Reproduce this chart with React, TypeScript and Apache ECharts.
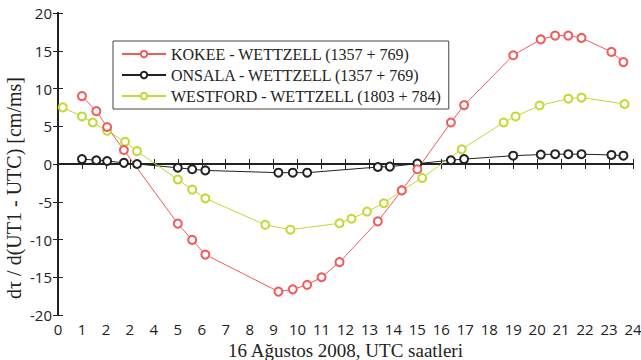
import React, { useEffect, useRef } from "react";
import * as echarts from "echarts";

const xTickLabels = ["0","1","2","2","4","5","6","7","8","9","10","11","12","13","14","15","16","17","18","19","20","21","22","23","24"];
const yTickValues = [-20, -15, -10, -5, 0, 5, 10, 15, 20];

const seriesNames = [
  "KOKEE - WETTZELL (1357 + 769)",
  "ONSALA - WETTZELL (1357 + 769)",
  "WESTFORD - WETTZELL (1803 + 784)",
];

const kokeeHours = [1.0,1.6,2.05,2.75,5.0,5.6,6.15,9.2,9.8,10.4,11.0,11.75,13.35,14.35,15.0,16.4,16.95,19.0,20.15,20.75,21.3,21.85,23.1,23.6];
const kokeeValues = [9.0,7.0,4.9,1.85,-7.9,-10.05,-12.0,-16.9,-16.6,-16.0,-15.0,-13.0,-7.6,-3.5,-0.7,5.5,7.8,14.4,16.5,17.0,17.0,16.7,14.85,13.5];

const onsalaHours = [1.0,1.6,2.05,2.75,3.3,5.0,5.6,6.15,9.2,9.8,10.4,13.35,13.85,15.0,16.4,16.95,19.0,20.15,20.75,21.3,21.85,23.1,23.6];
const onsalaValues = [0.65,0.5,0.4,0.15,0.0,-0.5,-0.7,-0.85,-1.15,-1.15,-1.15,-0.4,-0.35,0.05,0.5,0.65,1.1,1.25,1.3,1.3,1.3,1.2,1.1];

const westfordHours = [0.2,1.0,1.45,2.05,2.8,3.3,5.0,5.6,6.15,8.65,9.7,11.75,12.25,12.9,13.6,14.35,15.2,16.85,18.6,19.1,20.1,21.3,21.85,23.65];
const westfordValues = [7.5,6.3,5.5,4.4,2.95,1.7,-2.05,-3.4,-4.55,-8.05,-8.7,-7.85,-7.25,-6.3,-5.2,-3.5,-1.85,1.95,5.5,6.3,7.75,8.65,8.8,7.95];

const colors = ["#f25a5c", "#222222", "#c2d934"];

const zip = (xs: number[], ys: number[]) => xs.map((x, i) => [x, ys[i]]);

export default function App() {
  const ref = useRef<HTMLDivElement>(null);
  useEffect(() => {
    if (!ref.current) return;
    const chart = echarts.init(ref.current, null, { renderer: "svg" });
    const tickFont = { fontFamily: "Open Sans", fontSize: 15, color: "#222" };
    const frameLine = { show: true, lineStyle: { color: "#222", width: 2 } };
    const mkSeries = (i: number, xs: number[], ys: number[]) => ({
      name: seriesNames[i],
      type: "line",
      data: zip(xs, ys),
      symbol: "emptyCircle",
      symbolSize: 8,
      showSymbol: true,
      lineStyle: { color: colors[i], width: 1 },
      itemStyle: { color: colors[i], borderColor: colors[i], borderWidth: 1 },
      xAxisIndex: 0,
      yAxisIndex: 0,
    });
    chart.setOption({
      animation: false,
      backgroundColor: "#ffffff",
      grid: { left: 58, right: 8, top: 13, bottom: 45, containLabel: false, outerBoundsMode: "none" },
      legend: {
        orient: "vertical",
        left: 113,
        top: 41,
        backgroundColor: "#fff",
        borderColor: "#444",
        borderWidth: 1,
        padding: [5, 7, 5, 8],
        itemWidth: 44,
        itemHeight: 8,
        itemGap: 5,
        textStyle: { fontFamily: "Liberation Serif", fontSize: 16, color: "#222", lineHeight: 14 },
        data: seriesNames,
      },
      xAxis: [
        {
          type: "value",
          min: 0,
          max: 24,
          interval: 1,
          position: "bottom",
          name: "16 Ağustos 2008, UTC saatleri",
          nameLocation: "middle",
          nameGap: 18,
          nameTextStyle: { fontFamily: "Liberation Serif", fontSize: 19, color: "#222", lineHeight: 20 },
          axisLine: frameLine,
          axisTick: { show: true, inside: true, length: 5, lineStyle: { color: "#222" } },
          axisLabel: {
            ...tickFont,
            margin: 6,
            formatter: (v: number) => xTickLabels[Math.round(v)] ?? "",
          },
          splitLine: { show: false },
        },
        {
          type: "value",
          min: 0,
          max: 24,
          interval: 1,
          position: "top",
          axisLine: frameLine,
          axisTick: { show: true, inside: true, length: 5, lineStyle: { color: "#222" } },
          axisLabel: { show: false },
          splitLine: { show: false },
        },
      ],
      yAxis: [
        {
          type: "value",
          min: yTickValues[0],
          max: yTickValues[yTickValues.length - 1],
          interval: 5,
          position: "left",
          axisLine: frameLine,
          axisTick: { show: true, inside: true, length: 5, lineStyle: { color: "#222" } },
          axisLabel: { ...tickFont, margin: 6 },
          splitLine: { show: false },
        },
        {
          type: "value",
          min: yTickValues[0],
          max: yTickValues[yTickValues.length - 1],
          interval: 5,
          position: "right",
          axisLine: frameLine,
          axisTick: { show: true, inside: true, length: 5, lineStyle: { color: "#222" } },
          axisLabel: { show: false },
          splitLine: { show: false },
        },
      ],
      graphic: [
        {
          type: "text",
          x: 14,
          y: 188,
          rotation: Math.PI / 2,
          style: {
            text: "dτ / d(UT1 - UTC) [cm/ms]",
            fontFamily: "Liberation Serif",
            fontSize: 20,
            fill: "#222",
            textAlign: "center",
            textVerticalAlign: "middle",
          },
        },
      ],
      series: [
        mkSeries(1, onsalaHours, onsalaValues),
        mkSeries(2, westfordHours, westfordValues),
        mkSeries(0, kokeeHours, kokeeValues),
      ],
    });
    return () => chart.dispose();
  }, []);
  return (
    <div
      ref={ref}
      style={{ position: "fixed", left: 0, top: 0, width: 641, height: 360 }}
    />
  );
}
